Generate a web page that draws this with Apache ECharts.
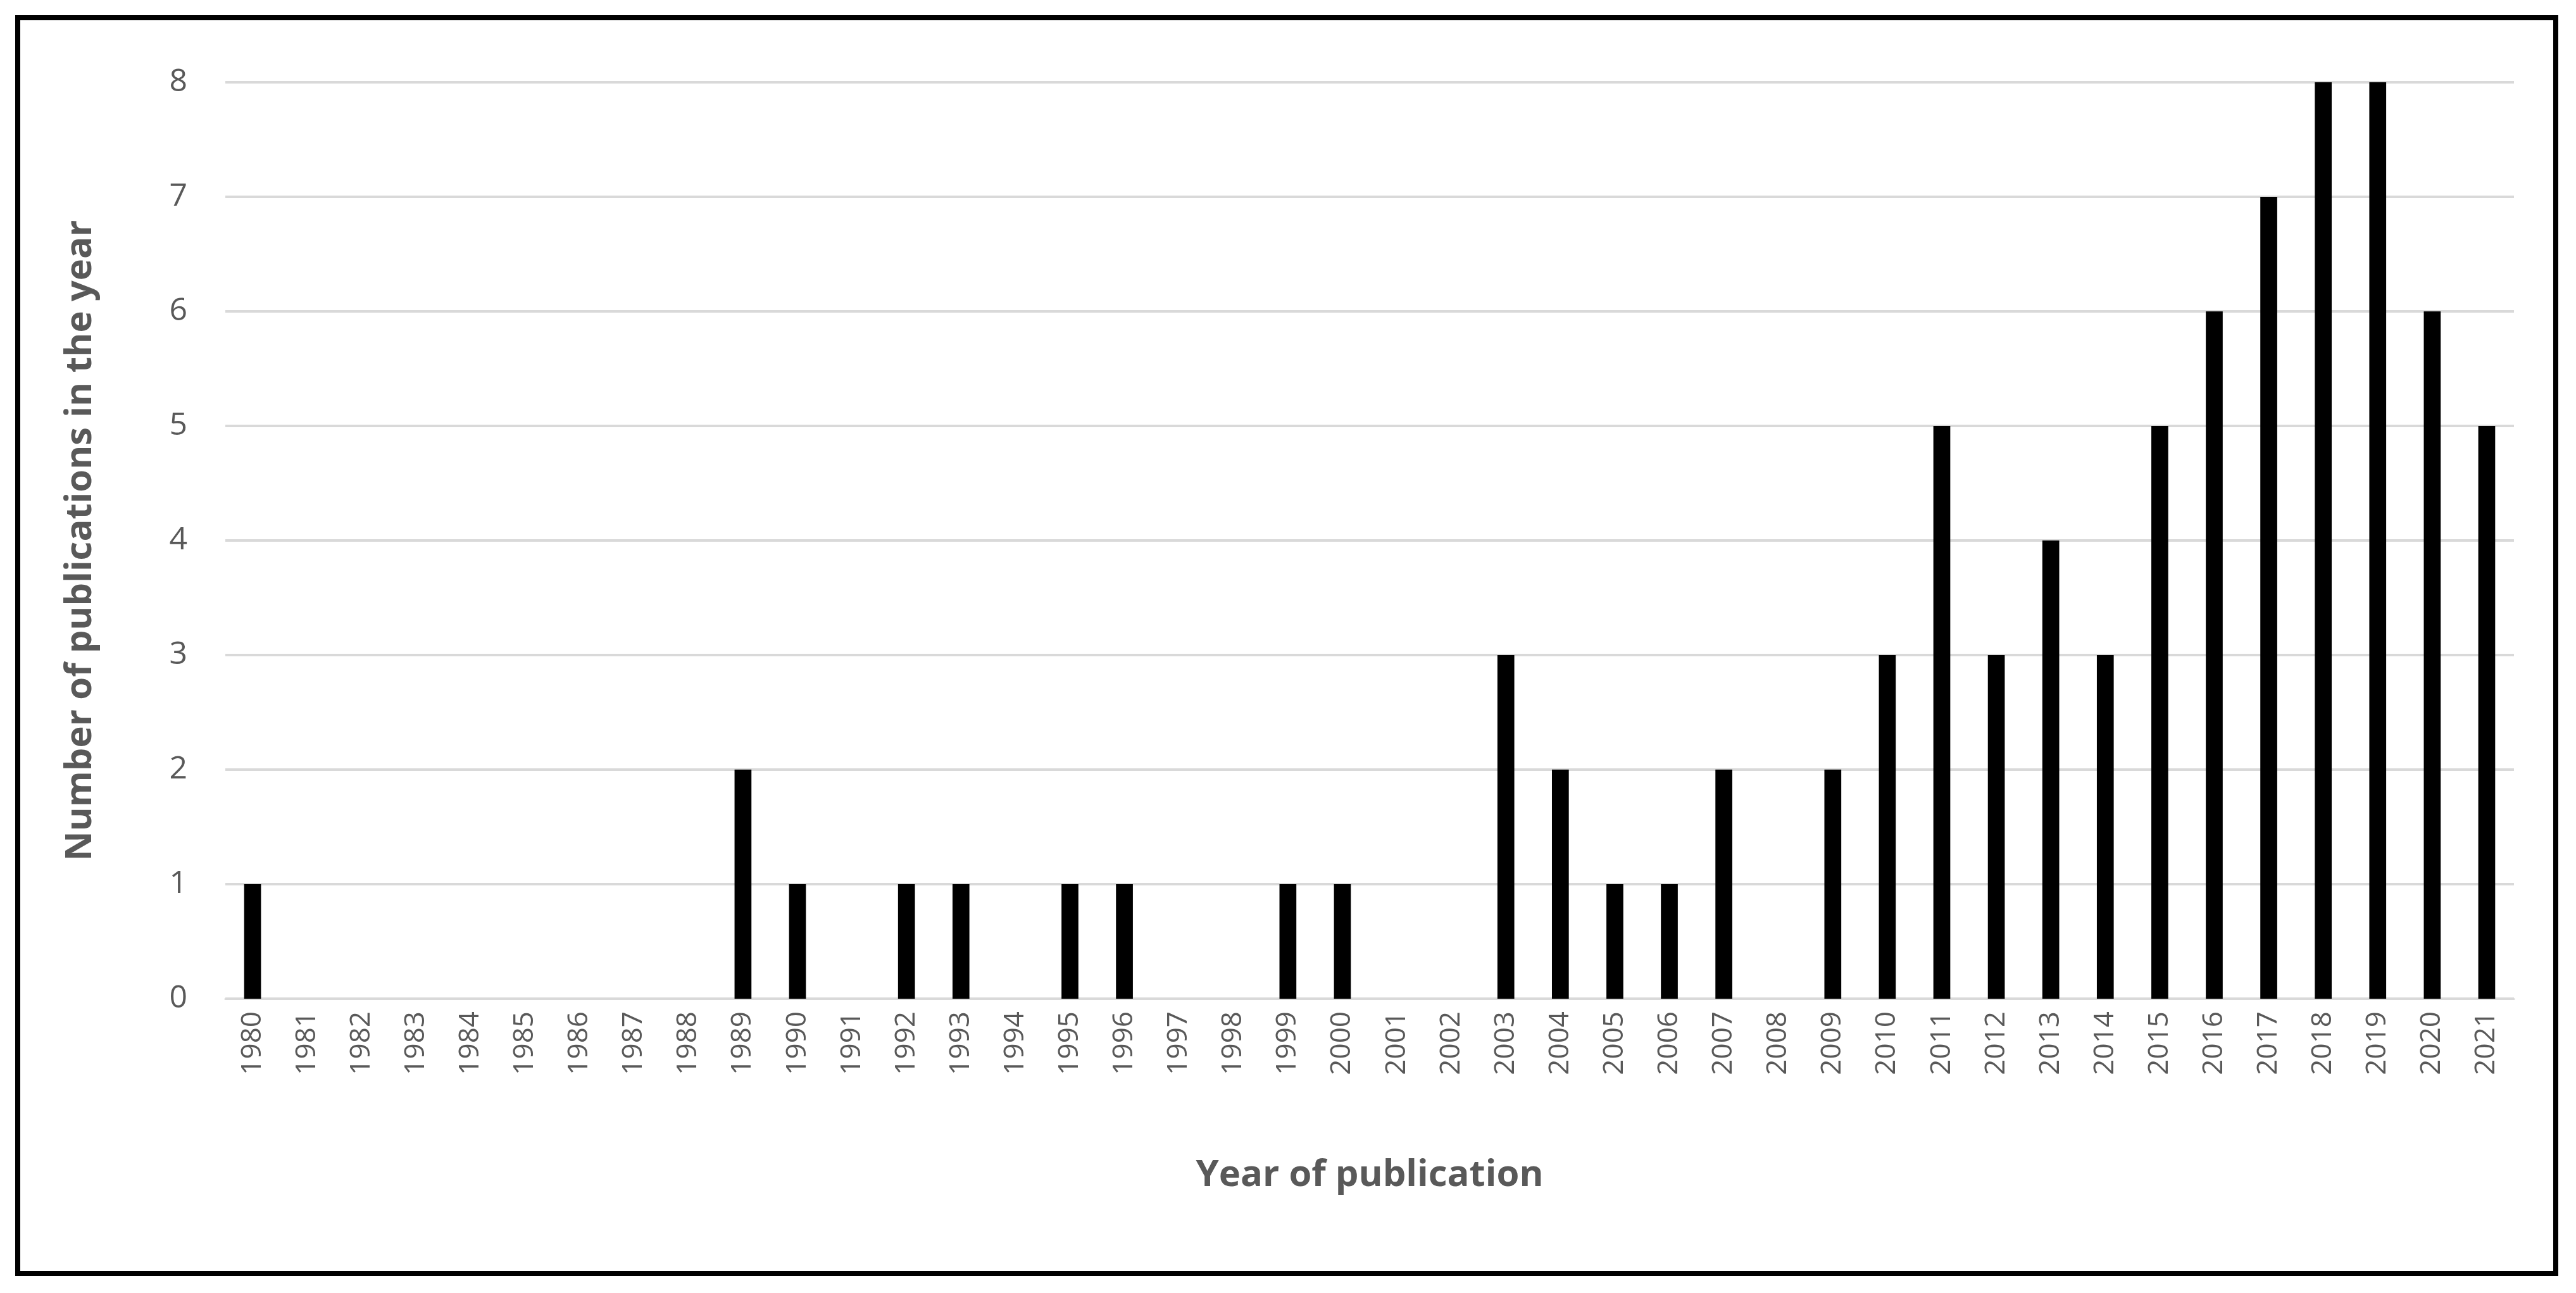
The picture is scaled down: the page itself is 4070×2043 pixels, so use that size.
<!DOCTYPE html>
<html><head><meta charset="utf-8">
<script src="https://cdn.jsdelivr.net/npm/echarts@6/dist/echarts.min.js"></script>
<style>html,body{margin:0;padding:0;background:#fff}#c{width:4070px;height:2043px}</style>
</head><body><div id="c"></div>
<script>
const years = [];
for (let y = 1980; y <= 2021; y++) years.push(String(y));
const counts = [1,0,0,0,0,0,0,0,0,2,1,0,1,1,0,1,1,0,0,1,1,0,0,3,2,1,1,2,0,2,3,5,3,4,3,5,6,7,8,8,6,5];
const yTicks = [0,1,2,3,4,5,6,7,8];
const chart = echarts.init(document.getElementById('c'));
chart.setOption({
  animation:false,
  graphic:[{type:'rect',shape:{x:28,y:28,width:4010,height:1984},style:{fill:'none',stroke:'#000',lineWidth:8}}],
  grid:{left:356,right:98,top:130,bottom:465},
  xAxis:{type:'category',data:years,name:'Year of publication',nameLocation:'middle',nameGap:250,
    nameTextStyle:{fontFamily:'Open Sans',fontWeight:'bold',fontSize:58,color:'#595959'},
    axisLine:{show:true,lineStyle:{color:'#d9d9d9',width:3}},axisTick:{show:false},
    axisLabel:{rotate:90,fontFamily:'Open Sans',fontSize:44,color:'#595959',margin:20,interval:0}},
  yAxis:{type:'value',min:0,max:8,interval:1,name:'Number of publications in the year',nameLocation:'middle',nameGap:200,
    nameTextStyle:{fontFamily:'Open Sans',fontWeight:'bold',fontSize:58,color:'#595959'},
    axisLine:{show:false},axisTick:{show:false},
    axisLabel:{fontFamily:'Open Sans',fontSize:50,color:'#595959',margin:60,formatter:v=>yTicks.includes(v)?String(v):''},
    splitLine:{lineStyle:{color:'#d9d9d9',width:4}}},
  series:[{type:'bar',data:counts,barWidth:'31%',itemStyle:{color:'#000'}}]
});
</script></body></html>
